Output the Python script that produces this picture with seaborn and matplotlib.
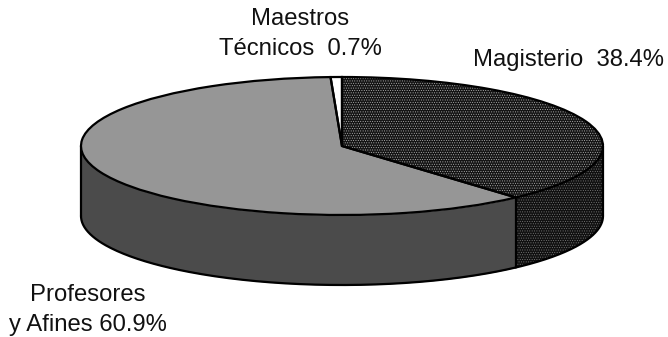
import numpy as np
import matplotlib
matplotlib.use('Agg')
import matplotlib.pyplot as plt
import seaborn as sns

sns.set_theme(style='white')
plt.rcParams['font.family'] = ['Liberation Sans', 'DejaVu Sans']
plt.rcParams['hatch.linewidth'] = 0.4

categories = ['Magisterio', 'Profesores y Afines', 'Maestros Técnicos']
shares = [38.4, 60.9, 0.7]
label_texts = ['Magisterio  38.4%', 'Profesores\ny Afines 60.9%', 'Maestros\nTécnicos  0.7%']

W, H = 668, 337
cx, cy, rx, ry, depth = 342, 146, 261, 69, 70


def side_wall(ax, start, stop, color, hatch=None):
    theta = np.radians(np.linspace(start, stop, 200))
    x = np.cos(theta)
    top = np.sin(theta)
    if hatch:
        ax.fill_between(x, top - depth / ry, top, facecolor='#101010',
                        edgecolor='#7a7a7a', hatch=hatch, linewidth=0, zorder=0)
    else:
        ax.fill_between(x, top - depth / ry, top, color=color, linewidth=0, zorder=0)
    ax.plot(x, top - depth / ry, color='black', lw=1.6, zorder=0.5)


fig = plt.figure(figsize=(W / 100, H / 100), dpi=100)
ax = fig.add_axes([0, 0, 1, 1])

# filled top first, black outlines go over it in a second pie
wedges, _ = ax.pie(shares, startangle=90, counterclock=False,
                   colors=['#141414', '#969696', 'white'],
                   wedgeprops={'linewidth': 0})
wedges[0].set_edgecolor('#b4b4b4')
wedges[0].set_hatch('.......')
ax.pie(shares, startangle=90, counterclock=False,
       wedgeprops={'fill': False, 'edgecolor': 'black', 'linewidth': 1.6})

# edge between the two front side faces comes from the shares
split = 90 - 360 * shares[0] / sum(shares)
side_wall(ax, 0, split, '#222222', hatch='.......')
side_wall(ax, split, -180, '#4b4b4b')
for ang in [0, split, -180]:
    xv = np.cos(np.radians(ang))
    yv = np.sin(np.radians(ang))
    ax.plot([xv, xv], [yv, yv - depth / ry], color='black', lw=1.6, zorder=0.6)

ax.set_aspect('auto')
ax.set_xlim(-cx / rx, (W - cx) / rx)
ax.set_ylim((cy - H) / ry, cy / ry)
ax.axis('off')

fig.text(473 / W, 1 - 60 / H, label_texts[0], fontsize=17.2, color='#111111', ha='left', va='center')
fig.text(88 / W, 1 - 310 / H, label_texts[1], fontsize=17.2, color='#111111', ha='center', va='center', linespacing=1.42)
fig.text(300 / W, 1 - 34 / H, label_texts[2], fontsize=17.2, color='#111111', ha='center', va='center', linespacing=1.42)

fig.savefig('out.png', dpi=100)
